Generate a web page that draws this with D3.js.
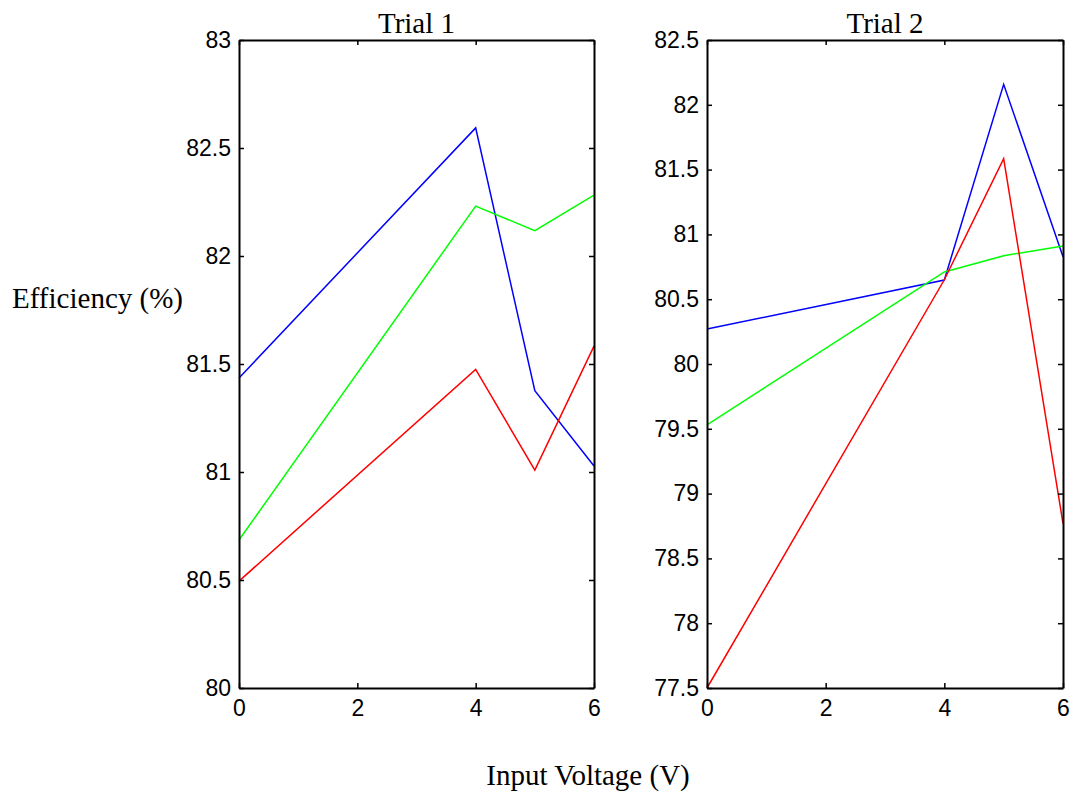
<!DOCTYPE html>
<html><head><meta charset="utf-8">
<script src="https://cdn.jsdelivr.net/npm/d3@7"></script>
<style>body{margin:0;background:#fff}</style>
</head><body>
<svg id="c" width="1073" height="793"></svg>
<script>
const xValues = [0, 4, 5, 6];
const xTicks = [0, 2, 4, 6];
const trial1Blue  = [81.435, 82.593, 81.376, 81.028];
const trial1Green = [80.685, 82.231, 82.117, 82.282];
const trial1Red   = [80.495, 81.475, 81.009, 81.583];
const trial2Blue  = [80.27, 80.648, 82.158, 80.828];
const trial2Green = [79.53, 80.71, 80.836, 80.91];
const trial2Red   = [77.5, 80.65, 81.584, 78.77];
const trial1YTicks = [80, 80.5, 81, 81.5, 82, 82.5, 83];
const trial2YTicks = [77.5, 78, 78.5, 79, 79.5, 80, 80.5, 81, 81.5, 82, 82.5];
const titles = ["Trial 1", "Trial 2"];
const colors = ["#0000ff", "#00ff00", "#ff0000"];

const svg = d3.select("#c");
const panels = [
  {title: titles[0], x0: 239, x1: 594, yDom: [80, 83], yTicks: trial1YTicks, series: [trial1Blue, trial1Green, trial1Red]},
  {title: titles[1], x0: 707, x1: 1063, yDom: [77.5, 82.5], yTicks: trial2YTicks, series: [trial2Blue, trial2Green, trial2Red]}
];
const plotTop = 40, plotBottom = 688;
const fmt = d => String(d);

panels.forEach(p => {
  const x = d3.scaleLinear().domain([0, 6]).range([p.x0, p.x1]);
  const y = d3.scaleLinear().domain(p.yDom).range([plotBottom, plotTop]);
  const g = svg.append("g");
  const line = d3.line().x((d, i) => x(xValues[i])).y(d => y(d));
  p.series.forEach((s, k) => {
    g.append("path").datum(s).attr("d", line).attr("fill", "none")
      .attr("stroke", colors[k]).attr("stroke-width", 1.5);
  });
  const axL = d3.axisLeft(y).tickValues(p.yTicks).tickSizeInner(-5).tickSizeOuter(0).tickPadding(8).tickFormat(fmt);
  const axR = d3.axisRight(y).tickValues(p.yTicks).tickSizeInner(-5).tickSizeOuter(0).tickFormat("");
  const axB = d3.axisBottom(x).tickValues(xTicks).tickSizeInner(-5).tickSizeOuter(0).tickPadding(11).tickFormat(fmt);
  const axT = d3.axisTop(x).tickValues(xTicks).tickSizeInner(-5).tickSizeOuter(0).tickFormat("");
  const style = sel => {
    sel.selectAll("path.domain").attr("stroke", "#000").attr("stroke-width", 2);
    sel.selectAll(".tick line").attr("stroke", "#000").attr("stroke-width", 1.5);
    sel.selectAll("text").attr("font-family", "Liberation Sans, Arial, sans-serif").attr("font-size", 23).attr("fill", "#000");
  };
  g.append("g").attr("transform", `translate(${p.x0},0)`).call(axL).call(style);
  g.append("g").attr("transform", `translate(${p.x1},0)`).call(axR).call(style);
  g.append("g").attr("transform", `translate(0,${plotBottom})`).call(axB).call(style)
    .selectAll("text").attr("dy", "0.72em");
  g.append("g").attr("transform", `translate(0,${plotTop})`).call(axT).call(style);
  g.append("text").attr("x", (p.x0 + p.x1) / 2).attr("y", 33).attr("text-anchor", "middle")
    .attr("font-family", "Liberation Serif, Times New Roman, serif").attr("font-size", 29).text(p.title);
});

svg.append("text").attr("x", 97.5).attr("y", 308).attr("text-anchor", "middle")
  .attr("font-family", "Liberation Serif, Times New Roman, serif").attr("font-size", 29).text("Efficiency (%)");
svg.append("text").attr("x", 588).attr("y", 785).attr("text-anchor", "middle")
  .attr("font-family", "Liberation Serif, Times New Roman, serif").attr("font-size", 29).text("Input Voltage (V)");
</script>
</body></html>
